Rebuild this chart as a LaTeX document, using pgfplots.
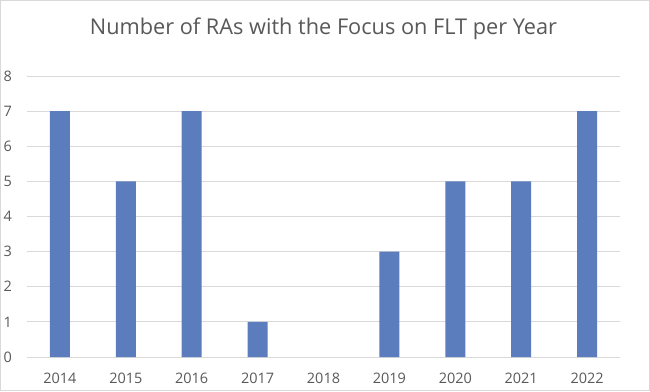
\documentclass[border=0pt]{standalone}
\usepackage{pgfplots}
\pgfplotsset{compat=1.18}
\usepackage{fontspec}
\setmainfont{Open Sans}
\definecolor{barblue}{RGB}{91,125,189}
\definecolor{txtgray}{RGB}{89,89,89}
\definecolor{gridgray}{RGB}{217,217,217}
\begin{document}
\begin{tikzpicture}[x=1bp,y=1bp]
\draw[gridgray, line width=1bp, fill=white] (-26.5,-33.5) rectangle (622.5,356.5);
\begin{axis}[
  at={(0,0)}, anchor=south west,
  scale only axis, width=593bp, height=281bp,
  xmin=-0.5, xmax=8.5, ymin=0, ymax=8,
  xtick={0,...,8},
  xticklabels={2014,2015,2016,2017,2018,2019,2020,2021,2022},
  ytick={0,...,8},
  axis line style={draw=none},
  major tick length=0pt,
  ymajorgrids,
  grid style={gridgray, line width=1bp},
  /pgf/number format/assume math mode=true,
  tick label style={font=\fontsize{14.5}{17}\selectfont, text=txtgray, inner sep=0pt},
  yticklabel style={anchor=east, xshift=-15bp},
  xticklabel style={anchor=north, yshift=-16bp},
  title={Number of RAs with the Focus on FLT per Year},
  title style={at={(0.5,1)}, anchor=center, yshift=41bp, font=\fontsize{21.8}{26}\selectfont, text=txtgray},
  ybar, bar width=20bp,
  clip=false,
]
\addplot[fill=barblue, draw=none] coordinates {(0,7) (1,5) (2,7) (3,1) (5,3) (6,5) (7,5) (8,7)};
\end{axis}
\end{tikzpicture}
\end{document}
